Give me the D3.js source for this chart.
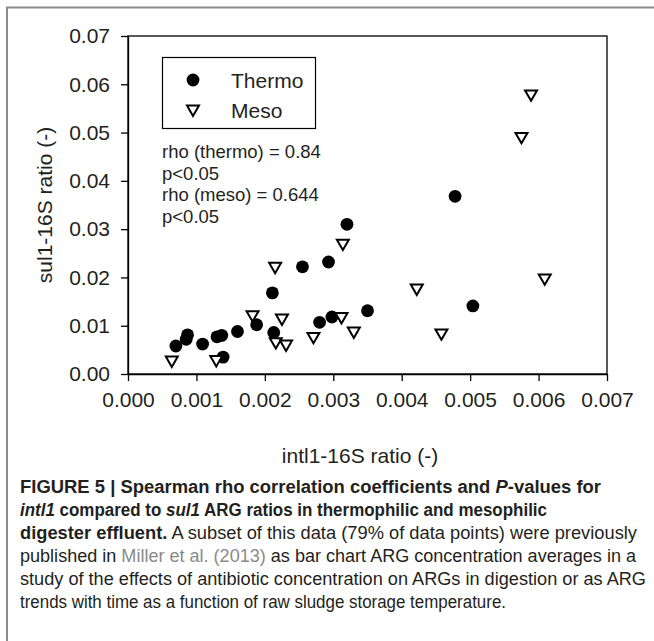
<!DOCTYPE html>
<html>
<head>
<meta charset="utf-8">
<script src="https://cdn.jsdelivr.net/npm/d3@7"></script>
<style>
  body { margin: 0; background: #fff; }
  svg { display: block; font-family: "Liberation Sans", Arial, Helvetica, sans-serif; }
</style>
</head>
<body>
<div id="chart"></div>
<script>
// intl1-16S (x) vs sul1-16S (y) ratios
var thermoX = [0.00070, 0.00085, 0.00087, 0.00109, 0.00130, 0.00137, 0.00139, 0.00160, 0.00188, 0.00211,
               0.00213, 0.00255, 0.00280, 0.00293, 0.00298, 0.00320, 0.00350, 0.00478, 0.00504]
var thermoY = [0.0058, 0.0072, 0.0081, 0.0062, 0.0077, 0.0080, 0.0035, 0.0088, 0.0102, 0.0168,
               0.0086, 0.0222, 0.0107, 0.0232, 0.0118, 0.0310, 0.0131, 0.0368, 0.0141]
var mesoX = [0.00064, 0.00129, 0.00182, 0.00215, 0.00216, 0.00225, 0.00231, 0.00271, 0.00312, 0.00314,
             0.00330, 0.00422, 0.00458, 0.00575, 0.00589, 0.00609]
var mesoY = [0.0029, 0.0030, 0.0123, 0.0223, 0.0067, 0.0116, 0.0062, 0.0078, 0.0119, 0.0271,
             0.0089, 0.0178, 0.0085, 0.0492, 0.0580, 0.0199]
var xTicks = [0, 0.001, 0.002, 0.003, 0.004, 0.005, 0.006, 0.007]
var yTicks = [0, 0.01, 0.02, 0.03, 0.04, 0.05, 0.06, 0.07]
var seriesNames = ['Thermo', 'Meso']
var statLines = ['rho (thermo) = 0.84', 'p<0.05', 'rho (meso) = 0.644', 'p<0.05']

var W = 654, H = 641,
    plot = {left: 128, right: 607, top: 36, bottom: 374},
    ink = '#231f20'

var svg = d3.select('#chart').append('svg')
    .attr('width', W)
    .attr('height', H)

// figure frame (only top and left edges fall inside the picture)
svg.append('rect')
    .attr('x', 7).attr('y', 7.5)
    .attr('width', 680).attr('height', 680)
    .attr('fill', 'none')
    .attr('stroke', '#8c8c8c')
    .attr('stroke-width', 2)

var x = d3.scaleLinear().domain([0, 0.007]).range([plot.left, plot.right])
var y = d3.scaleLinear().domain([0, 0.07]).range([plot.bottom, plot.top])

// plot box
svg.append('rect')
    .attr('x', plot.left).attr('y', plot.top)
    .attr('width', plot.right - plot.left).attr('height', plot.bottom - plot.top)
    .attr('fill', 'none').attr('stroke', '#000').attr('stroke-width', 1.3)

var xAxis = svg.append('g')
    .attr('transform', 'translate(0,' + plot.bottom + ')')
    .call(d3.axisBottom(x).tickValues(xTicks).tickFormat(d3.format('.3f')).tickSize(7).tickSizeOuter(0).tickPadding(11))
var yAxis = svg.append('g')
    .attr('transform', 'translate(' + plot.left + ',0)')
    .call(d3.axisLeft(y).tickValues(yTicks).tickFormat(d3.format('.2f')).tickSize(7).tickSizeOuter(0).tickPadding(11))

;[xAxis, yAxis].forEach(function(a) {
    a.select('.domain').attr('stroke', '#000').attr('stroke-width', 1.3)
    a.selectAll('.tick line').attr('stroke', '#000').attr('stroke-width', 1.3)
    a.selectAll('.tick text')
        .attr('fill', ink)
        .style('font-size', '21px')
        .style('font-family', '"Liberation Sans", Arial, sans-serif')
})

svg.append('text')
    .attr('x', 360).attr('y', 463)
    .attr('text-anchor', 'middle')
    .attr('fill', ink)
    .style('font-size', '21px')
    .text('intl1-16S ratio (-)')

svg.append('text')
    .attr('transform', 'translate(52,' + ((plot.top + plot.bottom) / 2) + ') rotate(-90)')
    .attr('text-anchor', 'middle')
    .attr('fill', ink)
    .style('font-size', '21px')
    .text('sul1-16S ratio (-)')

// markers
var tri = d3.symbol().type(d3.symbolTriangle).size(62)

svg.append('g').selectAll('circle')
    .data(d3.range(thermoX.length))
    .join('circle')
    .attr('cx', function(i) { return x(thermoX[i]) })
    .attr('cy', function(i) { return y(thermoY[i]) })
    .attr('r', 6.4)
    .attr('fill', '#000')

svg.append('g').selectAll('path')
    .data(d3.range(mesoX.length))
    .join('path')
    .attr('d', tri)
    .attr('transform', function(i) { return 'translate(' + x(mesoX[i]) + ',' + y(mesoY[i]) + ') rotate(180)' })
    .attr('fill', '#fff')
    .attr('stroke', '#000')
    .attr('stroke-width', 2)

// legend
var legend = svg.append('g')
legend.append('rect')
    .attr('x', 162.5).attr('y', 57.5).attr('width', 153).attr('height', 71)
    .attr('fill', '#fff').attr('stroke', '#000').attr('stroke-width', 1.2)
legend.append('circle').attr('cx', 193).attr('cy', 80).attr('r', 6.4).attr('fill', '#000')
legend.append('path').attr('d', tri)
    .attr('transform', 'translate(193,109) rotate(180)')
    .attr('fill', '#fff').attr('stroke', '#000').attr('stroke-width', 2)
legend.selectAll('text')
    .data(seriesNames)
    .join('text')
    .attr('x', 231)
    .attr('y', function(d, i) { return 88 + i * 29.5 })
    .attr('fill', ink)
    .style('font-size', '21px')
    .text(function(d) { return d })

// statistics note
svg.append('g').selectAll('text')
    .data(statLines)
    .join('text')
    .attr('x', 162)
    .attr('y', function(d, i) { return 158 + i * 21.5 })
    .attr('fill', ink)
    .style('font-size', '18.5px')
    .text(function(d) { return d })

// caption
var caption = [
    {w: 581, parts: [['FIGURE 5 | Spearman rho correlation coefficients and ', 'b'], ['P', 'bi'], ['-values for', 'b']]},
    {w: 527, parts: [['intl1', 'bi'], [' compared to ', 'b'], ['sul1', 'bi'], [' ARG ratios in thermophilic and mesophilic', 'b']]},
    {w: 617, parts: [['digester effluent.', 'b'], [' A subset of this data (79% of data points) were previously', 'n']]},
    {w: 616, parts: [['published in ', 'n'], ['Miller et al. (2013)', 'g'], [' as bar chart ARG concentration averages in a', 'n']]},
    {w: 626, parts: [['study of the effects of antibiotic concentration on ARGs in digestion or as ARG', 'n']]},
    {w: 486, parts: [['trends with time as a function of raw sludge storage temperature.', 'n']]}
]

var capG = svg.append('g')
caption.forEach(function(line, li) {
    var t = capG.append('text')
        .attr('x', 20)
        .attr('y', 493 + li * 23)
        .attr('textLength', line.w)
        .attr('lengthAdjust', 'spacingAndGlyphs')
        .attr('fill', ink)
        .style('font-size', '17.5px')
    line.parts.forEach(function(p) {
        t.append('tspan')
            .attr('font-weight', p[1].indexOf('b') >= 0 ? 'bold' : 'normal')
            .attr('font-style', p[1].indexOf('i') >= 0 ? 'italic' : 'normal')
            .attr('fill', p[1] === 'g' ? '#8a8a8a' : ink)
            .text(p[0])
    })
})
</script>
</body>
</html>
